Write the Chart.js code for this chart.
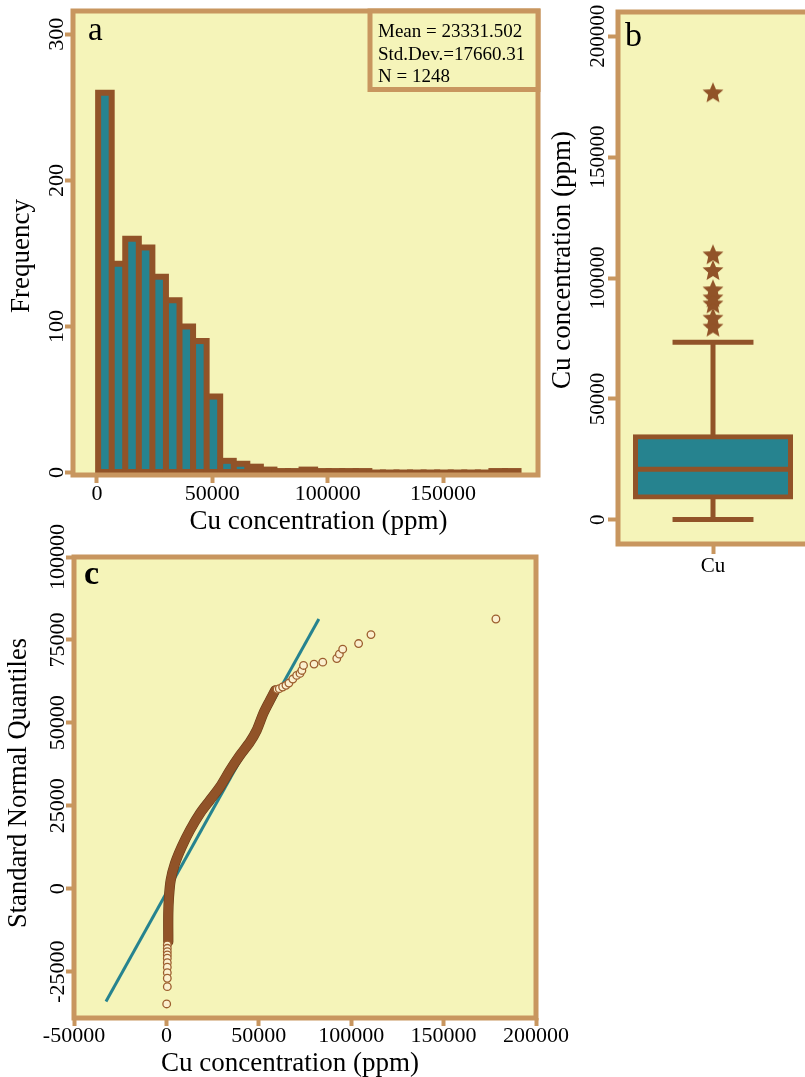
<!DOCTYPE html>
<html>
<head>
<meta charset="utf-8">
<title>Cu concentration</title>
<script src="https://cdn.jsdelivr.net/npm/chart.js@4/dist/chart.umd.min.js"></script>
<style>
  html, body { margin: 0; padding: 0; background: #fff; overflow: hidden; }
  body { width: 805px; height: 1077px; position: relative; }
  canvas { position: absolute; }
  #histChart { left: 0; top: 0; }
  #boxChart { left: 540px; top: 0; }
  #qqChart { left: 0; top: 490px; }
</style>
</head>
<body>
<canvas id="histChart" width="560" height="540"></canvas>
<canvas id="boxChart" width="280" height="590"></canvas>
<canvas id="qqChart" width="600" height="587"></canvas>
<script>
const SERIF = '"Liberation Serif", "Times New Roman", serif';
const YELLOW = '#f5f4b9';
const TAN = '#c8965f';
const BROWN = '#915328';
const TEAL = '#26838f';

// (a) histogram: bin centres (ppm) and counts
const binCenters = [3433, 9311, 15189, 21067, 26945, 32823, 38701, 44579, 50457, 56335,
  62213, 68091, 73969, 79847, 85725, 91603, 97481, 103359, 109237, 115115,
  120993, 126871, 132749, 138627, 144505, 150383, 156261, 162139, 168017, 173895, 179773];
const binCounts = [260, 143, 160, 154, 134, 118, 100, 90, 52, 8,
  6, 4, 2, 1, 1, 2, 1, 1, 1, 1,
  0, 0, 0, 0, 0, 0, 0, 0, 0, 1, 1];
const histXTicks = [0, 50000, 100000, 150000];
const histYTicks = [0, 100, 200, 300];
const statsLines = ['Mean = 23331.502', 'Std.Dev.=17660.31', 'N = 1248'];

// (b) box plot
const boxLabel = 'Cu';
const boxQuartiles = [9430, 20880, 34370];   // Q1, median, Q3
const boxWhiskers = [180, 73400];
const boxOutliers = [79900, 83600, 89500, 92000, 95300, 103300, 109800, 176800];
const boxYTicks = [0, 50000, 100000, 150000, 200000];

// (c) normal Q-Q plot
const qqBandX = [1030, 1030, 1410, 2330, 4650, 8280, 12770, 18180, 23590, 29000, 34420, 39830, 45240, 48860, 52440, 56060, 58870];
const qqBandY = [-16000, -7440, -2440, 2590, 7620, 12620, 17650, 22680, 26690, 30690, 35720, 40240, 44250, 47770, 52800, 56810, 59820];
const qqLowX = [490, 490, 490, 490, 490, 490, 490, 490, 490, 490, 150];
const qqLowY = [-16990, -17980, -19000, -20000, -20990, -22320, -23700, -25330, -27020, -29550, -34760];
const qqHighX = [59900, 61100, 62900, 64700, 66300, 68400, 70500, 72300, 73300, 74200, 79900, 84600, 92200, 93600, 95400, 104000, 110700, 178300];
const qqHighY = [60100, 60300, 60800, 61300, 62000, 63200, 64300, 64900, 65800, 67300, 67700, 68300, 69400, 70700, 72200, 73900, 76600, 81300];
const qqRefX = [-32700, 82500];
const qqRefY = [-34000, 81300];
const qqXTicks = [-50000, 0, 50000, 100000, 150000, 200000];
const qqYTicks = [-25000, 0, 25000, 50000, 75000, 100000];

const pts = (xs, ys) => xs.map((x, i) => ({x, y: ys[i]}));

function drawText(ctx, t) {
  ctx.save();
  ctx.font = (t.weight || 'normal') + ' ' + t.size + 'px ' + SERIF;
  ctx.fillStyle = '#000';
  ctx.textAlign = t.align || 'center';
  ctx.textBaseline = t.baseline || 'middle';
  ctx.translate(t.x, t.y);
  if (t.rotate) ctx.rotate(t.rotate);
  ctx.fillText(t.text, 0, 0);
  ctx.restore();
}

// yellow plot area, tan frame, and the free text of each panel
function panelDecor(texts, statBox) {
  return {
    id: 'panelDecor',
    beforeDraw(chart) {
      const {ctx, chartArea: a} = chart;
      ctx.save();
      ctx.fillStyle = YELLOW;
      ctx.fillRect(a.left, a.top, a.right - a.left, a.bottom - a.top);
      ctx.restore();
    },
    afterDatasetsDraw(chart) {
      const {ctx, chartArea: a} = chart;
      ctx.save();
      ctx.strokeStyle = TAN;
      ctx.lineWidth = 5;
      ctx.strokeRect(a.left, a.top, a.right - a.left, a.bottom - a.top);
      if (statBox) {
        ctx.fillStyle = YELLOW;
        ctx.fillRect(statBox.x, a.top, a.right - statBox.x, statBox.bottom - a.top);
        ctx.strokeRect(statBox.x, a.top, a.right - statBox.x, statBox.bottom - a.top);
      }
      ctx.restore();
    },
    afterDraw(chart) {
      texts.forEach(t => drawText(chart.ctx, t));
    }
  };
}

function axis(min, max, ticks, o) {
  const vertical = !!o.vertical;
  return {
    type: 'linear', min, max, offset: false,
    afterBuildTicks: s => { s.ticks = ticks.map(v => ({value: v})); },
    afterFit: s => { if (vertical) s.width = o.size; else s.height = o.size; },
    border: {display: false},
    grid: {display: true, offset: false, drawOnChartArea: false, drawTicks: true,
      tickLength: o.tick, tickWidth: 4, tickColor: TAN, color: TAN},
    ticks: {
      color: '#000', autoSkip: false, padding: o.pad,
      font: {family: SERIF, size: o.font},
      minRotation: vertical ? 90 : 0, maxRotation: vertical ? 90 : 0,
      crossAlign: vertical ? 'center' : 'near',
      callback: o.label || (v => String(v))
    }
  };
}

const common = {
  responsive: false, animation: false, events: [],
  plugins: {legend: {display: false}, tooltip: {enabled: false}}
};

// ---- (a) histogram ----
new Chart(document.getElementById('histChart'), {
  type: 'bar',
  data: {
    datasets: [{
      // teal face of each bar, inset from the brown outline
      data: pts(binCenters, binCounts),
      grouped: false, order: 0,
      barPercentage: 1, categoryPercentage: 1,
      borderWidth: 0, inflateAmount: -3,
      backgroundColor: c => {
        const y = c.chart.scales.y;
        if (!y || c.raw == null) return TEAL;
        return (y.getPixelForValue(0) - y.getPixelForValue(c.raw.y)) > 6.5 ? TEAL : 'rgba(0,0,0,0)';
      }
    }, {
      // brown outline
      data: pts(binCenters, binCounts),
      grouped: false, order: 1,
      barPercentage: 1, categoryPercentage: 1,
      borderWidth: 0, inflateAmount: 3,
      backgroundColor: BROWN
    }]
  },
  options: {
    ...common,
    layout: {padding: {left: 0, top: 11, right: 22, bottom: 0}},
    scales: {
      x: axis(-10400, 191150, histXTicks, {size: 65, tick: 8, pad: -2, font: 22}),
      y: axis(-1.7, 316, histYTicks, {vertical: true, size: 73, tick: 8, pad: -8.5, font: 22})
    }
  },
  plugins: [panelDecor([
    {text: 'a', x: 88, y: 40, size: 33, align: 'left', baseline: 'alphabetic'},
    {text: statsLines[0], x: 378, y: 36.5, size: 19, align: 'left', baseline: 'alphabetic'},
    {text: statsLines[1], x: 378, y: 59.5, size: 19, align: 'left', baseline: 'alphabetic'},
    {text: statsLines[2], x: 378, y: 82, size: 19, align: 'left', baseline: 'alphabetic'},
    {text: 'Cu concentration (ppm)', x: 318.5, y: 521.5, size: 27},
    {text: 'Frequency', x: 22, y: 256, size: 27, rotate: -Math.PI / 2}
  ], {x: 370, bottom: 89.5})]
});

// ---- (b) box plot ----
function starImage(size, color) {
  const c = document.createElement('canvas');
  c.width = c.height = size;
  const g = c.getContext('2d');
  const r = size / 2, ri = r * 0.46;
  g.beginPath();
  for (let k = 0; k < 10; k++) {
    const rad = k % 2 ? ri : r;
    const ang = -Math.PI / 2 + k * Math.PI / 5;
    g.lineTo(r + rad * Math.cos(ang), r + 1 + rad * Math.sin(ang));
  }
  g.closePath();
  g.fillStyle = color;
  g.fill();
  return c;
}

const boxHalf = 0.816;   // half box width in x units
const capHalf = 0.426;   // half whisker cap width
const seg = (x1, y1, x2, y2) => ({
  type: 'line', data: [{x: x1, y: y1}, {x: x2, y: y2}],
  borderColor: BROWN, borderWidth: 5, pointRadius: 0, order: 1
});

new Chart(document.getElementById('boxChart'), {
  type: 'bar',
  data: {
    datasets: [
      {type: 'line', data: boxOutliers.map(v => ({x: 0, y: v})), showLine: false,
        pointStyle: starImage(22, BROWN), pointRadius: 11, order: 0},
      Object.assign(seg(-boxHalf, boxQuartiles[1], boxHalf, boxQuartiles[1]), {order: 0}),
      {data: [{x: 0, y: [boxQuartiles[0], boxQuartiles[2]]}], order: 2,
        barThickness: 155, backgroundColor: TEAL, borderColor: BROWN,
        borderWidth: 5, borderSkipped: false, inflateAmount: 2.5},
      seg(0, boxQuartiles[2], 0, boxWhiskers[1]),
      seg(0, boxWhiskers[0], 0, boxQuartiles[0]),
      seg(-capHalf, boxWhiskers[1], capHalf, boxWhiskers[1]),
      seg(-capHalf, boxWhiskers[0], capHalf, boxWhiskers[0])
    ]
  },
  options: {
    ...common,
    layout: {padding: {left: 0, top: 11.5, right: 12, bottom: 0}},
    scales: {
      x: axis(-1, 1, [0], {size: 46, tick: 10, pad: 0, font: 21, label: () => boxLabel}),
      y: axis(-10000, 210000, boxYTicks, {vertical: true, size: 78, tick: 10, pad: -21.8, font: 21})
    }
  },
  plugins: [panelDecor([
    {text: 'b', x: 85, y: 46, size: 34, align: 'left', baseline: 'alphabetic'},
    {text: 'Cu concentration (ppm)', x: 22.5, y: 260, size: 27, rotate: -Math.PI / 2}
  ])]
});

// ---- (c) normal Q-Q plot ----
new Chart(document.getElementById('qqChart'), {
  type: 'scatter',
  data: {
    datasets: [
      {data: pts(qqHighX, qqHighY).concat(pts(qqLowX, qqLowY)), order: 0,
        pointRadius: 3.8, pointBorderWidth: 1.3,
        pointBackgroundColor: '#fbf0cf', pointBorderColor: '#9c5e2e'},
      {type: 'line', data: pts(qqBandX, qqBandY), order: 1, tension: 0.3,
        borderColor: BROWN, borderWidth: 9, borderCapStyle: 'round', pointRadius: 0},
      {type: 'line', data: pts(qqBandX, qqBandY), order: 2, tension: 0.3,
        borderColor: '#6a3b18', borderWidth: 10.2, borderCapStyle: 'round', pointRadius: 0},
      {type: 'line', data: pts(qqRefX, qqRefY), order: 3,
        borderColor: TEAL, borderWidth: 3, pointRadius: 0}
    ]
  },
  options: {
    ...common,
    layout: {padding: {left: 0, top: 67, right: 64, bottom: 0}},
    scales: {
      x: axis(-50000, 200000, qqXTicks, {size: 59, tick: 8, pad: -2.5, font: 22}),
      y: axis(-39000, 100000, qqYTicks, {vertical: true, size: 74, tick: 8, pad: -25, font: 22})
    }
  },
  plugins: [panelDecor([
    {text: 'c', x: 84, y: 94, size: 34, weight: 'bold', align: 'left', baseline: 'alphabetic'},
    {text: 'Cu concentration (ppm)', x: 290, y: 574, size: 27},
    {text: 'Standard Normal Quantiles', x: 19, y: 293, size: 26.5, rotate: -Math.PI / 2}
  ])]
});
</script>
</body>
</html>
